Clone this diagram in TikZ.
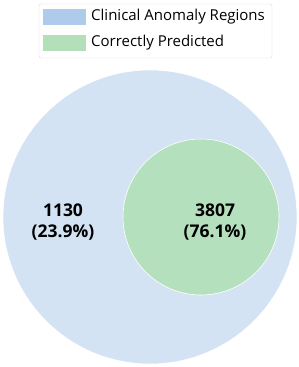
\documentclass[tikz,border=0pt]{standalone}
\usepackage{fontspec}
\setmainfont{Open Sans}
\usetikzlibrary{positioning}
\definecolor{regionblue}{RGB}{211,227,243}
\definecolor{predgreen}{RGB}{181,224,190}
\definecolor{patchblue}{RGB}{174,203,235}
\definecolor{patchgreen}{RGB}{179,224,184}
\begin{document}
\begin{tikzpicture}[x=1pt, y=-1pt,
    venn/.style={circle, draw=white, line width=0.6pt, inner sep=0pt},
    count/.style={align=center, font=\fontsize{17.5}{21}\selectfont\bfseries},
    patch/.style={minimum width=43pt, minimum height=16pt, inner sep=0pt},
    entry/.style={right, inner sep=0pt, font=\fontsize{15}{17}\selectfont}]

  \useasboundingbox (0,0) rectangle (299,367);

  %% circles
  \node[venn, fill=regionblue, minimum size=294pt] (regions) at (150,217) {};
  \node[venn, fill=predgreen, minimum size=156pt] (predicted) at (201,217) {};

  %% counts
  \node[count] (missed) at (63,222) {1130\\(23.9\%)};
  \node[count] (hit) at (215,222) {3807\\(76.1\%)};

  %% legend
  \draw[rounded corners=2pt, draw=black!15, fill=white] (39,4) rectangle (272,58);
  \node[patch, fill=patchblue] (bluepatch) at (64.5,17) {};
  \node[patch, fill=patchgreen] (greenpatch) at (64.5,43) {};
  \node[entry] (bluetext) at (91,17) {Clinical Anomaly Regions};
  \node[entry] (greentext) at (91,43) {Correctly Predicted};

\end{tikzpicture}
\end{document}
